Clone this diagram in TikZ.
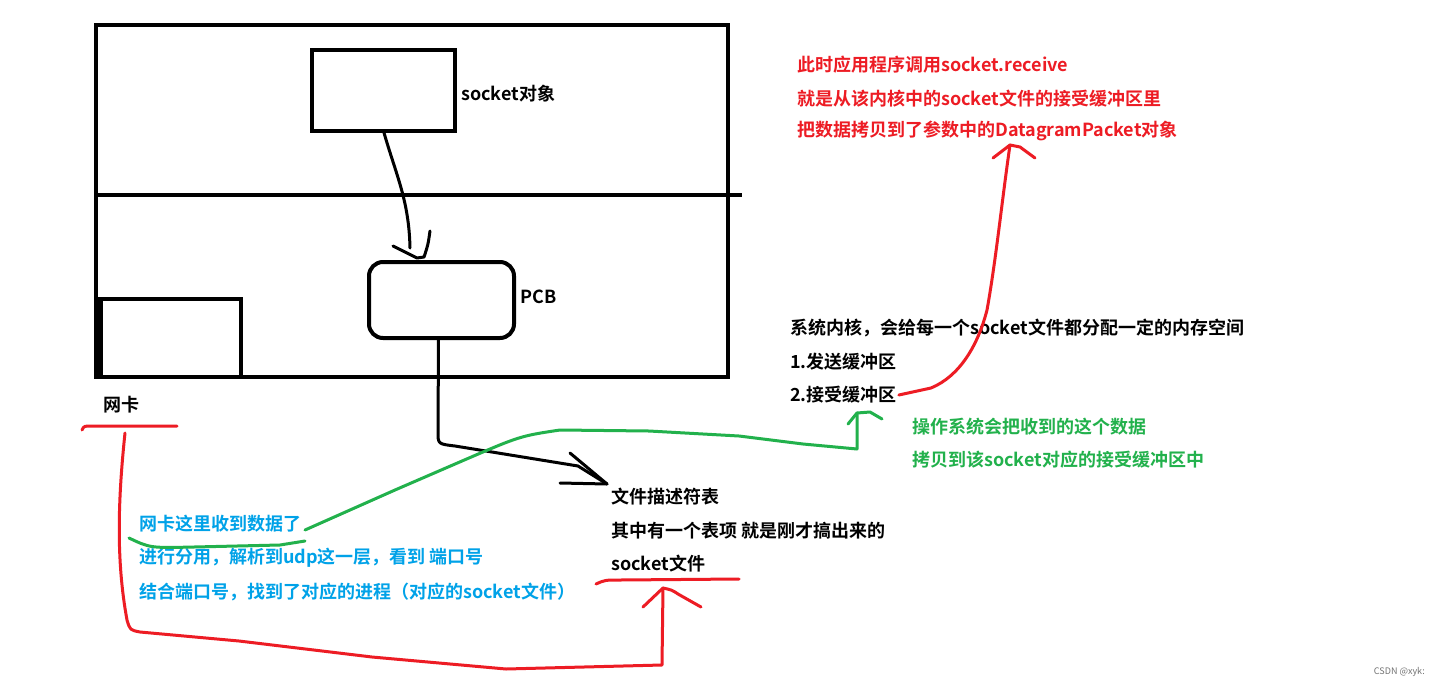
\documentclass[tikz,border=0pt]{standalone}
\usepackage{fontspec}
\newfontfamily\cjk{Noto Sans CJK SC}[BoldFont={Noto Sans CJK SC Bold}]
\definecolor{paintred}{RGB}{237,28,36}
\definecolor{paintgreen}{RGB}{34,177,76}
\definecolor{paintblue}{RGB}{0,162,232}
\begin{document}
\begin{tikzpicture}[x=1pt,y=-1pt,
  box/.style={draw,line width=4pt,inner sep=0pt,outer sep=0pt},
  lbl/.style={anchor=west,inner sep=0pt,font=\cjk\bfseries\fontsize{18}{20}\selectfont},
  ink/.style={line width=3pt,line cap=round,line join=round},
  redink/.style={ink,draw=paintred},
  greenink/.style={ink,draw=paintgreen},
  blackink/.style={ink,draw=black},
]
\useasboundingbox[fill=white] (0,0) rectangle (1440,686);

% kernel / user space frame
\node[box,minimum width=632pt,minimum height=352pt] (frame) at (412,201) {};
\coordinate (divL) at (96,195);
\coordinate (divR) at (742,195);
\draw[line width=4pt] (divL) -- (divR);

% boxes
\node[box,minimum width=143pt,minimum height=81pt] (sock) at (383.5,90.5) {};
\node[box,rounded corners=14pt,minimum width=145pt,minimum height=76pt] (pcb) at (441.5,300) {};
\node[box,minimum width=140pt,minimum height=78pt] (nic) at (171,338) {};
\fill (nic.south west) ++(-7,2) rectangle ++(9,-82);

% labels in black
\node[lbl] (socklbl) at (461,94) {socket对象};
\node[lbl] (pcblbl) at (520,297) {PCB};
\node[lbl] (niclbl) at (103,405) {网卡};
\node[lbl] (fd1) at (611,497) {文件描述符表};
\node[lbl] (fd2) at (611,531) {其中有一个表项 就是刚才搞出来的};
\node[lbl] (fd3) at (611,564) {socket文件};
\node[lbl] (buf1) at (790,328) {系统内核，会给每一个socket文件都分配一定的内存空间};
\node[lbl] (buf2) at (790,362) {1.发送缓冲区};
\node[lbl] (buf3) at (790,395) {2.接受缓冲区};

% red notes
\node[lbl,text=paintred] (app1) at (797,65) {此时应用程序调用socket.receive};
\node[lbl,text=paintred] (app2) at (797,99) {就是从该内核中的socket文件的接受缓冲区里};
\node[lbl,text=paintred] (app3) at (797,131) {把数据拷贝到了参数中的DatagramPacket对象};

% blue notes
\node[lbl,text=paintblue] (net1) at (139,524) {网卡这里收到数据了};
\node[lbl,text=paintblue] (net2) at (139,558) {进行分用，解析到udp这一层，看到 端口号};
\node[lbl,text=paintblue] (net3) at (139,592) {结合端口号，找到了对应的进程（对应的socket文件）};

% green notes
\node[lbl,text=paintgreen] (os1) at (912,427) {操作系统会把收到的这个数据};
\node[lbl,text=paintgreen] (os2) at (912,460) {拷贝到该socket对应的接受缓冲区中};

\node[anchor=east,inner sep=0pt,text=black!55,font=\cjk\fontsize{9}{10}\selectfont] (mark) at (1425,672) {CSDN @xyk:};

% socket object -> PCB
\coordinate (tipA) at (417,258);
\draw[blackink] (sock.south) .. controls (396,175) and (409,200) .. (410,248);
\draw[blackink] (393,246) -- (tipA) -- (424,257) .. controls (428,245) .. (430,231);

% PCB -> file descriptor table
\coordinate (tipB) at (607,484);
\draw[blackink] (pcb.south) ++(-3,0) -- (438,432) .. controls (438,444) .. (455,446)
  -- (578,466) -- (tipB);
\draw[blackink] (570,453) -- (tipB) -- (560,483);

% underline of the NIC label and route to the socket file
\draw[redink] (82,430) .. controls (84,426) .. (92,426) -- (177,426);
\coordinate (tipC) at (663,588);
\draw[redink] (125,433) .. controls (118,500) and (116,560) .. (127,620)
  .. controls (130,630) .. (140,632) -- (239,641) -- (372,657) -- (506,669)
  -- (662,665) -- (tipC);
\draw[redink] (643,607) -- (tipC) .. controls (672,590) .. (678,594) -- (701,607);
\draw[redink] (596,584) .. controls (605,580) .. (620,580) -- (739,579);

% green route from the NIC note to the receive buffer
\draw[greenink] (129,538) .. controls (150,548) .. (194,547) -- (280,545) -- (305,541);
\coordinate (tipD) at (857,413);
\draw[greenink] (305,530) -- (395,490) -- (462,461) .. controls (520,436) .. (560,430)
  -- (649,431) -- (739,436) -- (803,444) -- (857,449) -- (tipD);
\draw[greenink] (848,424) -- (tipD) -- (870,412) -- (882,419);

% receive buffer -> DatagramPacket
\coordinate (tipE) at (1010,145);
\draw[redink] (buf3.east) ++(2,0) -- (931,388) .. controls (960,376) and (978,345) .. (987,310)
  .. controls (996,260) and (1002,200) .. (tipE);
\draw[redink] (993,158) -- (tipE) -- (1020,147) -- (1035,158);
\end{tikzpicture}
\end{document}
